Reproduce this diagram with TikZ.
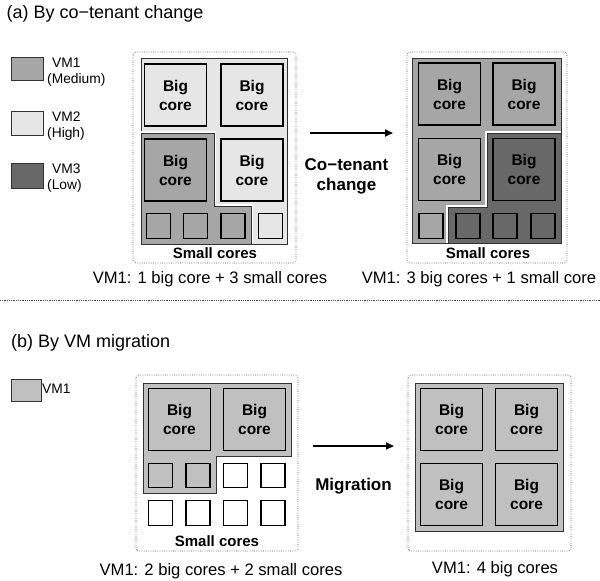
\documentclass[tikz,border=0pt]{standalone}
\usepackage{fontspec}
\setmainfont{Liberation Sans}
\usetikzlibrary{arrows.meta}
\definecolor{vmlight}{RGB}{230,230,230}
\definecolor{vmmed}{RGB}{166,166,166}
\definecolor{vmdark}{RGB}{104,104,104}
\definecolor{vmone}{RGB}{192,192,192}
\definecolor{edge}{RGB}{50,50,50}
\begin{document}
\begin{tikzpicture}[x=1pt,y=-1pt,
  chipframe/.style={draw=black!70, dash pattern=on 0.6pt off 1.2pt, line width=0.6pt, rounded corners=3pt},
  bigcore/.style={draw=black, line width=1.4pt, minimum width=62pt, minimum height=62pt,
    inner sep=0pt, align=center, font=\fontsize{15.5}{19}\selectfont\bfseries},
  smallcore/.style={draw=black, line width=1.4pt, minimum width=24pt, minimum height=24.5pt, inner sep=0pt},
  swatch/.style={draw=edge, line width=0.9pt, inner sep=0pt},
  legtext/.style={anchor=west, inner sep=0pt, align=left, font=\fontsize{13.8}{15.5}\selectfont},
  title/.style={anchor=base west, inner sep=0pt, font=\fontsize{18}{20}\selectfont},
  caption/.style={anchor=base, inner sep=0pt, font=\fontsize{16.6}{18}\selectfont},
  smalllabel/.style={inner sep=0pt, font=\fontsize{15}{16}\selectfont\bfseries},
  arrowlabel/.style={anchor=base, inner sep=0pt, font=\fontsize{17}{19}\selectfont\bfseries},
  move/.style={-{Triangle[length=8pt,width=7pt]}, line width=1.8pt},
  region/.style={draw=edge, line width=0.9pt},
  halo/.style={draw=white, line width=4pt}
]
\useasboundingbox (0,0) rectangle (600,581);

% ---------- (a) By co-tenant change ----------
\node[title] (titleA) at (6.5,18.5) {(a) By co−tenant change};

% legend
\node[swatch, fill=vmmed, minimum width=32pt, minimum height=23pt] (legA1) at (27,68.5) {};
\node[legtext] (legA1t) at (47,72) {\hspace*{5pt}VM1\\(Medium)};
\node[swatch, fill=vmlight, minimum width=32pt, minimum height=24pt] (legA2) at (27,123) {};
\node[legtext] (legA2t) at (47,126) {\hspace*{5pt}VM2\\(High)};
\node[swatch, fill=vmdark, minimum width=32pt, minimum height=25pt] (legA3) at (27,175.5) {};
\node[legtext] (legA3t) at (47,178) {\hspace*{5pt}VM3\\(Low)};

% left chip: VM2 owns three big cores and one small core
\draw[chipframe] (133,52) rectangle (296,263);
\draw[region, fill=vmlight] (141,58) rectangle (287,244);
\draw[halo] (141,133) -- (214,133) -- (214,206) -- (251,206) -- (251,244);
\fill[vmmed] (141,133) -- (214,133) -- (214,206) -- (251,206) -- (251,244) -- (141,244) -- cycle;
\draw[region] (141,133) -- (214,133) -- (214,206) -- (251,206) -- (251,244) -- (141,244) -- cycle;

\node[bigcore, fill=vmlight] (aL11) at (175.5,95) {Big\\core};
\node[bigcore, fill=vmlight] (aL12) at (252,95) {Big\\core};
\node[bigcore, fill=vmmed]   (aL21) at (175.5,170) {Big\\core};
\node[bigcore, fill=vmlight] (aL22) at (252,170) {Big\\core};
\node[smallcore, fill=vmmed]   (aLs1) at (158.5,226) {};
\node[smallcore, fill=vmmed]   (aLs2) at (195.5,226) {};
\node[smallcore, fill=vmmed]   (aLs3) at (233,226) {};
\node[smallcore, fill=vmlight] (aLs4) at (270.5,226) {};
\node[smalllabel] (aLsl) at (215,253) {Small cores};
\node[caption] (aLcap) at (210,283) {VM1: 1 big core + 3 small cores};

% right chip: VM1 grows to three big cores, VM3 takes the rest
\draw[chipframe] (407,52) rectangle (567,263);
\draw[region, fill=vmmed] (412,58) rectangle (561,243);
\draw[halo] (487,207) -- (487,133) -- (561,133);
\draw[halo] (448,243) -- (448,207) -- (487,207);
\fill[vmdark] (487,133) -- (561,133) -- (561,243) -- (448,243) -- (448,207) -- (487,207) -- cycle;
\draw[region] (487,133) -- (561,133) -- (561,243) -- (448,243) -- (448,207) -- (487,207) -- cycle;

\node[bigcore, fill=vmmed]  (aR11) at (449.5,94) {Big\\core};
\node[bigcore, fill=vmmed]  (aR12) at (524,94) {Big\\core};
\node[bigcore, fill=vmmed]  (aR21) at (449.5,169.5) {Big\\core};
\node[bigcore, fill=vmdark] (aR22) at (524,169.5) {Big\\core};
\node[smallcore, fill=vmmed]  (aRs1) at (431,226) {};
\node[smallcore, fill=vmdark] (aRs2) at (468,226) {};
\node[smallcore, fill=vmdark] (aRs3) at (505,226) {};
\node[smallcore, fill=vmdark] (aRs4) at (543,226) {};
\node[smalllabel] (aRsl) at (488,253) {Small cores};
\node[caption] (aRcap) at (479,283) {VM1: 3 big cores + 1 small core};

% transition arrow
\coordinate (aFrom) at (310,133);
\coordinate (aTo) at (393,133);
\draw[move] (aFrom) -- (aTo);
\node[arrowlabel] (aLab1) at (346.5,170) {Co−tenant};
\node[arrowlabel] (aLab2) at (346.5,190) {change};

% separator between the two parts
\draw[draw=black!70, dash pattern=on 0.6pt off 1.2pt, line width=0.6pt] (0,300) -- (600,300);

% ---------- (b) By VM migration ----------
\node[title] (titleB) at (11,347) {(b) By VM migration};

\node[swatch, fill=vmone, minimum width=30pt, minimum height=22pt] (legB1) at (26,390) {};
\node[legtext] (legB1a) at (42,389) {VM1};

% left chip: two big and two small cores
\draw[chipframe] (136,375) rectangle (298,551);
\draw[region, fill=vmone] (143,383) -- (291,383) -- (291,456) -- (216,456) -- (216,493) -- (143,493) -- cycle;

\node[bigcore, fill=vmone] (bL11) at (179.5,419.5) {Big\\core};
\node[bigcore, fill=vmone] (bL12) at (254.5,419.5) {Big\\core};
\node[smallcore, fill=vmone] (bLs1) at (160.5,475.5) {};
\node[smallcore, fill=vmone] (bLs2) at (198,475.5) {};
\node[smallcore, fill=white] (bLs3) at (235.5,475.5) {};
\node[smallcore, fill=white] (bLs4) at (273,475.5) {};
\node[smallcore, fill=white] (bLs5) at (160.5,513) {};
\node[smallcore, fill=white] (bLs6) at (198,513) {};
\node[smallcore, fill=white] (bLs7) at (235.5,513) {};
\node[smallcore, fill=white] (bLs8) at (273,513) {};
\node[smalllabel] (bLsl) at (217,541) {Small cores};
\node[caption] (bLcap) at (221,575) {VM1: 2 big cores + 2 small cores};

% right chip: four big cores
\draw[chipframe] (408,375) rectangle (571,551);
\draw[region, fill=vmone] (415,383) rectangle (563,531);
\node[bigcore, fill=vmone] (bR11) at (451.5,419.5) {Big\\core};
\node[bigcore, fill=vmone] (bR12) at (526.5,419.5) {Big\\core};
\node[bigcore, fill=vmone] (bR21) at (451.5,494.5) {Big\\core};
\node[bigcore, fill=vmone] (bR22) at (526.5,494.5) {Big\\core};
\node[caption] (bRcap) at (495,573) {VM1: 4 big cores};

% migration arrow
\coordinate (bFrom) at (313,446);
\coordinate (bTo) at (394,446);
\draw[move] (bFrom) -- (bTo);
\node[arrowlabel] (bLab) at (353.5,490) {Migration};
\end{tikzpicture}
\end{document}
